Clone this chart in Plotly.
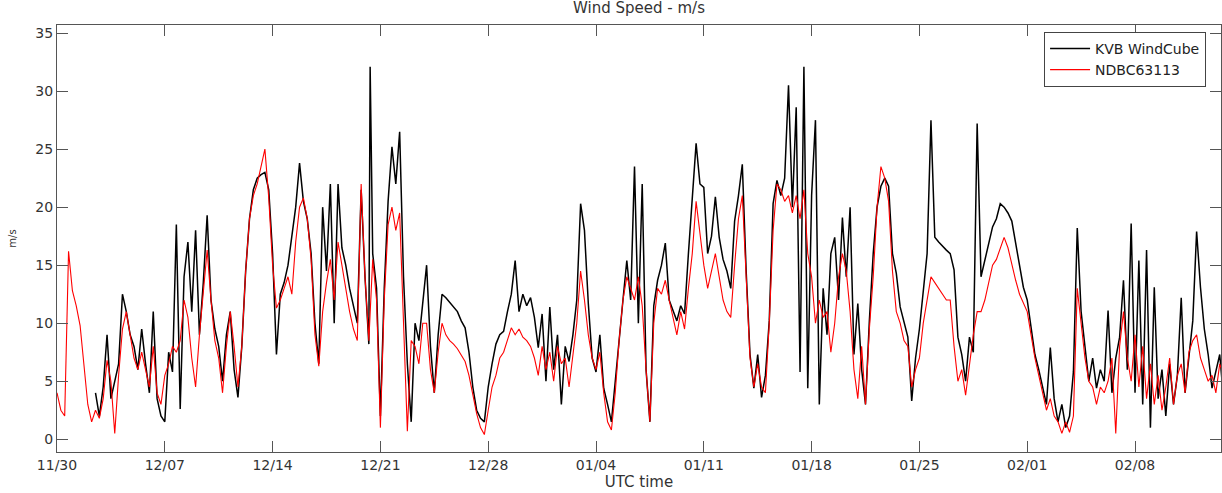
import pandas as pd
import plotly.graph_objects as go

START = "2014-11-30 00:00"
STEP = "6h"
N = None

# KVB WindCube (black), 6-hourly readings, one list per week
kvb_w1 = [N, N, N, N, N, N, N, N, N, N, 4.0, 2.0, 4.5, 9.0, 3.5, 5.0, 6.5, 12.5, 11.0, 9.0, 8.0, 6.0, 9.5, 6.5, 4.0, 11.0, 3.5, 2.0]
kvb_w2 = [1.5, 7.5, 5.8, 18.5, 2.6, 14.0, 17.0, 11.0, 18.0, 9.0, 13.5, 19.3, 12.0, 9.5, 8.0, 5.0, 9.0, 11.0, 6.0, 3.6, 8.0, 14.5, 19.0, 21.5, 22.5, 22.8, 23.0, 21.5]
kvb_w3 = [16.0, 7.3, 12.5, 13.5, 15.0, 17.5, 20.0, 23.8, 20.5, 19.0, 16.0, 10.0, 6.5, 20.0, 14.5, 22.0, 10.0, 22.0, 16.5, 15.0, 13.0, 11.5, 10.0, 21.5, 14.0, 8.2, 16.0, 13.0]
kvb_w4 = [2.0, 13.0, 20.5, 25.2, 22.0, 26.5, 14.0, 6.5, 1.5, 10.0, 8.5, 12.0, 15.0, 8.0, 4.0, 9.0, 12.5, 12.2, 11.8, 11.5, 11.0, 10.2, 9.6, 7.5, 4.5, 2.5, 1.8, 1.5]
kvb_w5 = [4.5, 6.5, 8.2, 9.0, 9.3, 11.0, 12.5, 15.4, 11.0, 12.5, 11.5, 12.2, 10.5, 7.9, 10.8, 5.0, 11.4, 6.0, 9.0, 3.0, 8.0, 6.7, 9.0, 12.0, 20.3, 18.0, 11.7, 7.0]
kvb_w6 = [5.8, 9.0, 4.4, 3.0, 1.5, 5.0, 8.8, 12.0, 15.4, 12.0, 23.5, 10.0, 22.0, 6.0, 1.5, 11.5, 13.7, 15.0, 16.9, 12.0, 11.1, 10.2, 11.5, 10.8, 16.0, 21.0, 25.5, 22.0]
kvb_w7 = [21.7, 16.0, 17.5, 20.9, 17.4, 15.5, 14.5, 13.0, 18.8, 21.0, 23.7, 14.5, 7.3, 4.4, 7.3, 3.6, 5.5, 10.2, 20.3, 22.3, 21.0, 22.5, 30.5, 20.0, 28.6, 5.8, 32.1, 4.4]
kvb_w8 = [21.0, 27.5, 3.0, 13.0, 9.0, 16.0, 17.4, 12.0, 19.1, 14.0, 20.0, 7.3, 11.7, 6.0, 3.0, 10.2, 16.0, 20.0, 21.8, 22.5, 21.8, 16.0, 14.3, 11.4, 10.0, 8.8, 3.3, 7.0]
kvb_w9 = [9.5, 12.5, 16.0, 27.5, 17.4, 17.0, 16.6, 16.3, 16.0, 14.6, 8.8, 7.3, 5.0, 8.8, 7.5, 27.2, 14.0, 15.5, 17.0, 18.3, 19.0, 20.3, 20.0, 19.5, 18.8, 17.0, 15.0, 13.1]
kvb_w10 = [12.0, 9.5, 7.3, 6.0, 4.5, 3.0, 7.9, 3.5, 1.5, 3.0, 1.0, 2.0, 5.8, 18.2, 11.0, 8.0, 5.0, 7.0, 4.4, 6.0, 5.0, 11.1, 4.0, 7.0, 8.8, 13.7, 6.0, 18.6]
kvb_w11 = [4.0, 15.4, 3.0, 16.3, 1.0, 13.1, 3.5, 6.0, 2.0, 6.5, 3.0, 5.5, 12.2, 4.0, 7.0, 10.2, 17.9, 13.1, 9.5, 7.3, 4.4, 6.0, 7.3, 3.5]

# extra isolated KVB spikes
kvb_spike_times = ["2014-12-20 08:00"]
kvb_spike_vals = [32.1]

# NDBC63113 (red), 6-hourly readings, one list per week
ndbc_w1 = [4.0, 2.5, 2.0, 16.2, 12.8, 11.5, 9.8, 6.5, 3.0, 1.5, 2.5, 1.8, 3.5, 6.8, 5.0, 0.5, 5.5, 9.5, 11.0, 9.0, 7.0, 6.0, 7.5, 6.0, 4.5, 8.0, 4.0, 3.0]
ndbc_w2 = [5.5, 6.5, 8.0, 7.5, 8.5, 12.0, 10.5, 7.0, 4.5, 9.0, 13.0, 16.3, 12.0, 8.5, 7.0, 4.0, 8.0, 11.0, 8.0, 4.5, 8.0, 14.5, 19.0, 21.0, 22.0, 23.5, 25.0, 20.8]
ndbc_w3 = [15.0, 11.3, 12.0, 13.0, 14.0, 12.5, 17.0, 20.0, 20.8, 19.0, 15.5, 9.0, 6.3, 11.0, 13.5, 15.5, 12.0, 17.0, 15.0, 13.0, 11.0, 9.5, 8.5, 22.0, 14.0, 8.5, 15.5, 12.0]
ndbc_w4 = [1.0, 12.0, 18.5, 20.0, 18.0, 19.5, 10.0, 0.7, 8.5, 8.0, 6.5, 10.0, 10.0, 6.0, 4.0, 7.5, 10.0, 9.0, 8.5, 8.2, 7.8, 7.2, 6.7, 5.5, 3.8, 2.2, 1.0, 0.4]
ndbc_w5 = [2.5, 4.5, 5.5, 7.0, 7.5, 8.5, 9.6, 9.0, 9.5, 8.8, 8.5, 8.0, 7.0, 5.5, 8.0, 6.0, 7.5, 5.0, 8.0, 6.5, 7.0, 4.5, 7.5, 10.0, 14.5, 12.0, 9.0, 7.0]
ndbc_w6 = [6.0, 7.5, 4.0, 1.5, 0.8, 4.0, 8.5, 12.0, 14.0, 13.0, 12.0, 14.0, 11.5, 6.0, 1.5, 10.0, 13.0, 12.5, 13.7, 12.0, 10.5, 9.0, 11.0, 9.5, 13.0, 16.0, 20.5, 17.5]
ndbc_w7 = [15.0, 13.0, 14.5, 16.0, 14.0, 12.0, 11.0, 10.5, 15.0, 19.0, 21.0, 14.0, 7.0, 4.5, 6.5, 4.5, 4.0, 10.0, 18.0, 22.0, 21.5, 20.5, 21.0, 19.5, 21.0, 19.0, 21.5, 16.0]
ndbc_w8 = [14.0, 10.0, 12.0, 10.5, 11.0, 7.5, 10.0, 14.0, 16.0, 14.5, 11.0, 6.0, 3.5, 8.0, 3.0, 9.5, 14.0, 20.0, 23.5, 22.5, 20.5, 14.5, 11.0, 10.0, 8.5, 8.0, 4.5, 6.0]
ndbc_w9 = [7.0, 10.0, 12.0, 14.0, 13.5, 13.0, 12.5, 12.0, 12.0, 8.0, 5.0, 6.0, 3.8, 6.5, 9.0, 11.0, 11.0, 12.0, 13.5, 15.0, 15.5, 16.5, 17.4, 16.5, 15.0, 13.7, 12.5, 11.7]
ndbc_w10 = [11.0, 9.0, 7.0, 5.5, 4.0, 2.5, 3.5, 2.0, 1.5, 0.5, 1.5, 0.6, 2.0, 13.0, 10.0, 7.0, 5.0, 4.5, 3.0, 4.5, 4.0, 5.0, 7.0, 0.5, 8.0, 11.0, 7.0, 5.0]
ndbc_w11 = [9.0, 4.5, 8.0, 3.5, 6.5, 3.0, 5.5, 2.5, 4.5, 7.0, 3.0, 5.5, 6.5, 4.0, 7.5, 8.5, 9.0, 7.0, 6.0, 5.0, 5.5, 4.0, 6.5, 5.5]

tick_dates = ["2014-11-30", "2014-12-07", "2014-12-14", "2014-12-21", "2014-12-28", "2015-01-04",
              "2015-01-11", "2015-01-18", "2015-01-25", "2015-02-01", "2015-02-08"]
tick_labels = ["11/30", "12/07", "12/14", "12/21", "12/28", "01/04", "01/11", "01/18", "01/25", "02/01", "02/08"]
y_ticks = [0, 5, 10, 15, 20, 25, 30, 35]
x_range = ["2014-11-30 00:00", "2015-02-13 14:00"]
y_range = [-1.1, 35.7]

kvb_vals = kvb_w1 + kvb_w2 + kvb_w3 + kvb_w4 + kvb_w5 + kvb_w6 + kvb_w7 + kvb_w8 + kvb_w9 + kvb_w10 + kvb_w11
ndbc_vals = ndbc_w1 + ndbc_w2 + ndbc_w3 + ndbc_w4 + ndbc_w5 + ndbc_w6 + ndbc_w7 + ndbc_w8 + ndbc_w9 + ndbc_w10 + ndbc_w11

kvb = pd.DataFrame({"t": pd.date_range(START, periods=len(kvb_vals), freq=STEP), "v": kvb_vals})
kvb = pd.concat([kvb, pd.DataFrame({"t": pd.to_datetime(kvb_spike_times), "v": kvb_spike_vals})])
kvb = kvb.sort_values("t")
ndbc = pd.DataFrame({"t": pd.date_range(START, periods=len(ndbc_vals), freq=STEP), "v": ndbc_vals})

FONT = "DejaVu Sans, Liberation Sans, Arial, sans-serif"
fig = go.Figure()
fig.add_trace(go.Scatter(x=kvb["t"], y=kvb["v"], mode="lines", name="KVB WindCube",
                         line=dict(color="#000000", width=1.5)))
fig.add_trace(go.Scatter(x=ndbc["t"], y=ndbc["v"], mode="lines", name="NDBC63113",
                         line=dict(color="#ff0000", width=1.1)))

axis_common = dict(showline=True, linecolor="#555555", linewidth=1, mirror="ticks",
                   ticks="inside", ticklen=11, tickcolor="#555555", tickwidth=1,
                   showgrid=False, zeroline=False,
                   tickfont=dict(family=FONT, size=14, color="#333333"))

fig.update_layout(
    width=1222, height=493,
    margin=dict(l=57, r=1, t=25, b=41),
    paper_bgcolor="white", plot_bgcolor="white",
    title=dict(text="Wind Speed - m/s", x=0.5, xref="paper", xanchor="center",
               y=0.985, yanchor="middle", font=dict(family=FONT, size=15, color="#333333")),
    xaxis=dict(range=x_range, tickvals=tick_dates, ticktext=tick_labels,
               title=dict(text="UTC time", font=dict(family=FONT, size=15, color="#333333"), standoff=0),
               **axis_common),
    yaxis=dict(range=y_range, tickvals=y_ticks,
               title=dict(text="m/s", font=dict(family=FONT, size=10, color="#333333"), standoff=16),
               **axis_common),
    legend=dict(x=0.848, y=0.984, xanchor="left", yanchor="top",
                bgcolor="white", bordercolor="#444444", borderwidth=1,
                font=dict(family=FONT, size=14, color="#222222"),
                tracegroupgap=0, itemwidth=40),
    showlegend=True,
)

fig.write_html("out.html")
